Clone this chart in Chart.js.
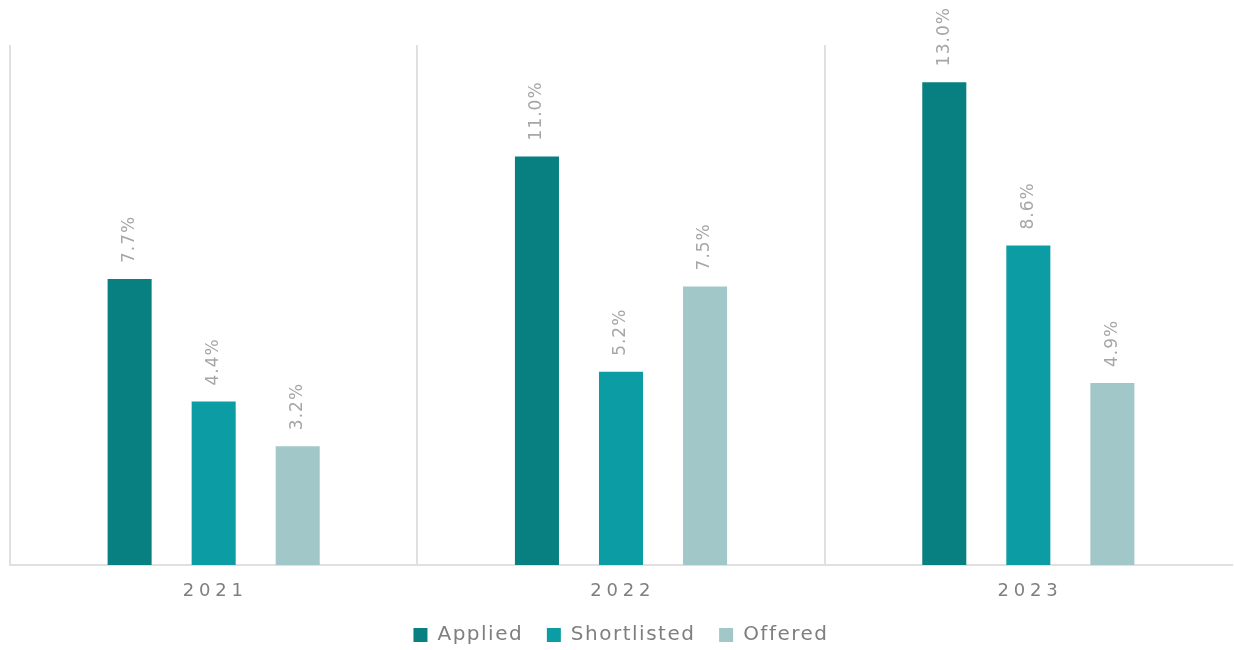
<!DOCTYPE html>
<html lang="en">
  <head>
    <meta charset="UTF-8" />
    <title>Applied / Shortlisted / Offered</title>
    <script src="https://cdn.jsdelivr.net/npm/chart.js"></script>
    <style>
      body {
        margin: 0;
        background: #ffffff;
      }
      #wrap {
        width: 1234px;
        height: 650px;
      }
    </style>
  </head>
  <body>
    <div id="wrap"><canvas id="myChart"></canvas></div>
    <script>
      var years = ['2021', '2022', '2023'];
      var applied = [7.7, 11.0, 13.0];
      var shortlisted = [4.4, 5.2, 8.6];
      var offered = [3.2, 7.5, 4.9];

      var fontFamily = '"DejaVu Sans", sans-serif';

      // 字距：讓文字接近原圖的寬字體
      var spacing = {
        id: 'spacing',
        beforeLayout: function (chart) { chart.ctx.letterSpacing = '1.5px'; },
        beforeDraw: function (chart) { chart.ctx.letterSpacing = '1.5px'; }
      };

      // 柱子上方的旋轉數值標籤
      var barLabels = {
        id: 'barLabels',
        afterDatasetsDraw: function (chart) {
          var ctx = chart.ctx;
          ctx.save();
          ctx.letterSpacing = '1px';
          ctx.fillStyle = '#a6a6a6';
          ctx.font = '17px ' + fontFamily;
          ctx.textAlign = 'left';
          ctx.textBaseline = 'middle';
          chart.data.datasets.forEach(function (ds, i) {
            chart.getDatasetMeta(i).data.forEach(function (bar, j) {
              ctx.save();
              ctx.translate(bar.x, bar.y - 16);
              ctx.rotate(-Math.PI / 2);
              ctx.fillText(ds.data[j].toFixed(1) + '%', 0, 0);
              ctx.restore();
            });
          });
          ctx.restore();
        }
      };

      var ctx = document.getElementById('myChart').getContext('2d');
      var myChart = new Chart(ctx, {
        type: 'bar',
        data: {
          labels: years,
          datasets: [
            { label: 'Applied', data: applied, backgroundColor: '#087f80' },
            { label: 'Shortlisted', data: shortlisted, backgroundColor: '#0c9ca3' },
            { label: 'Offered', data: offered, backgroundColor: '#a2c7c9' }
          ]
        },
        options: {
          responsive: true,
          maintainAspectRatio: false,
          animation: false,
          layout: { padding: { top: 45, left: 10, right: 2, bottom: 0 } },
          datasets: {
            bar: { categoryPercentage: 0.619, barPercentage: 0.524 }
          },
          scales: {
            x: {
              grid: {
                offset: true,
                drawTicks: false,
                lineWidth: 2,
                color: function (c) {
                  return c.type === 'tick' ? '#e0e0e0' : 'rgba(0,0,0,0)';
                }
              },
              border: { display: true, color: '#e0e0e0', width: 2 },
              ticks: {
                color: '#7f7f7f',
                padding: 17,
                font: { family: fontFamily, size: 18, lineHeight: 1 },
                callback: function (v, i) {
                  return years[i].split('').join('\u200a');
                }
              }
            },
            y: {
              display: false,
              min: 0,
              max: 14
            }
          },
          plugins: {
            legend: {
              position: 'bottom',
              maxHeight: 33,
              labels: {
                color: '#7f7f7f',
                boxWidth: 14,
                boxHeight: 14,
                padding: 8,
                font: { family: fontFamily, size: 20 },
                generateLabels: function (chart) {
                  var items = Chart.defaults.plugins.legend.labels.generateLabels(chart);
                  items.forEach(function (it, i) {
                    if (i < items.length - 1) it.text = it.text + '  ';
                  });
                  return items;
                }
              }
            },
            tooltip: { enabled: false }
          }
        },
        plugins: [spacing, barLabels]
      });
    </script>
  </body>
</html>
